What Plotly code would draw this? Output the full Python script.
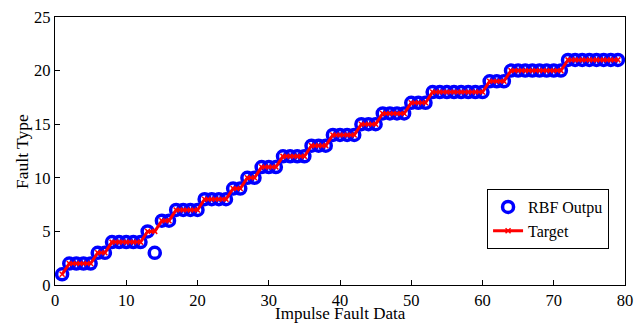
import plotly.graph_objects as go

x_vals = list(range(1, 80))
target = ([1] + [2]*4 + [3]*2 + [4]*5 + [5]*2 + [6]*2 + [7]*4 + [8]*4 + [9]*2 + [10]*2
          + [11]*3 + [12]*4 + [13]*3 + [14]*4 + [15]*3 + [16]*4 + [17]*3 + [18]*8
          + [19]*3 + [20]*8 + [21]*8)
rbf_output = list(target)
rbf_output[13] = 3  # sample 14 misclassified

font_family = "Liberation Serif, Times New Roman, serif"

fig = go.Figure()
fig.add_trace(go.Scatter(
    x=x_vals, y=rbf_output, mode="markers", name="RBF Outpu",
    marker=dict(symbol="circle-open", size=11, color="#0000ff", line=dict(width=3.5, color="#0000ff")),
))
fig.add_trace(go.Scatter(
    x=x_vals, y=target, mode="lines+markers", name="Target",
    line=dict(color="#ff0000", width=3),
    marker=dict(symbol="x-thin", size=5, color="#ff0000", line=dict(width=1.5, color="#ff0000")),
))

axis_common = dict(
    showline=True, linecolor="black", linewidth=1.2, mirror=True,
    ticks="inside", ticklen=5, tickcolor="black", showgrid=False, zeroline=False,
    tickfont=dict(family=font_family, size=16.5, color="black"),
    automargin=False,
)
fig.update_layout(
    width=637, height=323,
    margin=dict(l=55, r=12, t=17, b=38),
    plot_bgcolor="white", paper_bgcolor="white",
    font=dict(family=font_family, color="black"),
    xaxis=dict(range=[0, 80], tickvals=[0, 10, 20, 30, 40, 50, 60, 70, 80], **axis_common),
    yaxis=dict(range=[0, 25], tickvals=[0, 5, 10, 15, 20, 25], **axis_common),
    legend=dict(x=0.758, y=0.358, xanchor="left", yanchor="top",
                bordercolor="black", borderwidth=1, bgcolor="white",
                font=dict(family=font_family, size=16, color="black"),
                tracegroupgap=0, itemwidth=30),
    showlegend=True,
    annotations=[
        dict(text="Impulse Fault Data", xref="paper", yref="paper", x=0.5, y=-0.106,
             xanchor="center", yanchor="middle", showarrow=False,
             font=dict(family=font_family, size=17, color="black")),
        dict(text="Fault Type", xref="paper", yref="paper", x=-0.058, y=0.5,
             xanchor="center", yanchor="middle", showarrow=False, textangle=-90,
             font=dict(family=font_family, size=17.5, color="black")),
    ],
)
fig.write_html("out.html", config={"displayModeBar": False},
               post_script="document.body.style.margin='0';document.body.style.overflow='hidden';")
